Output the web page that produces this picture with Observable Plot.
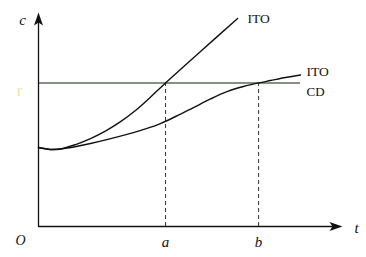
<!DOCTYPE html>
<html>
<head>
<meta charset="utf-8">
<script src="https://cdn.jsdelivr.net/npm/d3@7"></script>
<script src="https://cdn.jsdelivr.net/npm/@observablehq/plot@0.6"></script>
<style>
html,body{margin:0;padding:0;background:#fff;}
</style>
</head>
<body>
<div id="chart"></div>
<script>
// Upper ITO curve (t, c)
const upperT = [0, 0.39, 0.72, 1.22, 1.71, 2.20, 2.70, 3.19, 3.68, 4.18, 5.33, 6.55];
const upperC = [3.69, 3.60, 3.62, 3.83, 4.11, 4.46, 4.90, 5.42, 6.04, 6.71, 8.18, 9.72];
// Lower ITO curve (t, c)
const lowerT = [0, 0.39, 0.72, 1.71, 3.03, 3.52, 4.01, 4.51, 5.10, 5.66, 6.22, 6.74, 7.24, 7.63, 8.13, 8.62];
const lowerC = [3.69, 3.60, 3.62, 3.88, 4.35, 4.56, 4.81, 5.14, 5.56, 5.96, 6.31, 6.54, 6.71, 6.82, 6.96, 7.08];
// CD level r and crossing times a, b
const rLevel = 6.71;
const cdEnd = 8.62;
const crossTimes = [4.18, 7.24];
const crossLabels = ["a", "b"];
const axisMax = 10;
const curveLabels = ["ITO", "ITO"];

const upper = upperT.map((t, i) => ({t, c: upperC[i]}));
const lower = lowerT.map((t, i) => ({t, c: lowerC[i]}));

const dart = {
  draw(ctx, size) {
    ctx.moveTo(0, 0);
    ctx.lineTo(-4.5, 13);
    ctx.lineTo(0, 10);
    ctx.lineTo(4.5, 13);
    ctx.closePath();
  }
};

const serif = "'Liberation Serif', 'DejaVu Serif', serif";

const chart = Plot.plot({
  width: 366,
  height: 257,
  marginLeft: 38,
  marginRight: 24,
  marginTop: 12,
  marginBottom: 31,
  x: {domain: [0, axisMax], axis: null},
  y: {domain: [0, axisMax], axis: null},
  style: {background: "#fff", overflow: "visible"},
  marks: [
    Plot.ruleY([rLevel], {x1: 0, x2: cdEnd, stroke: "#5b6f57", strokeWidth: 1.5}),
    Plot.ruleX(crossTimes, {y1: 0, y2: rLevel, stroke: "#333", strokeWidth: 1, strokeDasharray: "4,3"}),
    Plot.ruleX([0], {y1: 0, y2: axisMax - 0.3, stroke: "#111", strokeWidth: 1.3}),
    Plot.ruleY([0], {x1: 0, x2: axisMax - 0.2, stroke: "#111", strokeWidth: 1.3}),
    Plot.dot([{t: 0, c: axisMax}], {x: "t", y: "c", symbol: dart, r: 5, fill: "#111", stroke: null}),
    Plot.dot([{t: axisMax, c: 0}], {x: "t", y: "c", symbol: dart, r: 5, fill: "#111", stroke: null, rotate: 90}),
    Plot.line(upper, {x: "t", y: "c", curve: "catmull-rom", stroke: "#111", strokeWidth: 1.4}),
    Plot.line(lower, {x: "t", y: "c", curve: "catmull-rom", stroke: "#111", strokeWidth: 1.4}),
    Plot.text([upper[upper.length - 1]], {x: "t", y: "c", text: () => curveLabels[0], textAnchor: "start", dx: 10, dy: 0, fontFamily: serif, fontSize: 13.5, fill: "#111"}),
    Plot.text([lower[lower.length - 1]], {x: "t", y: "c", text: () => curveLabels[1], textAnchor: "start", dx: 6, dy: -3, fontFamily: serif, fontSize: 13.5, fill: "#111"}),
    Plot.text([{t: cdEnd, c: rLevel}], {x: "t", y: "c", text: () => "CD", textAnchor: "start", dx: 6, dy: 9, fontFamily: serif, fontSize: 13, fill: "#111"}),
    Plot.text([{t: 0, c: axisMax}], {x: "t", y: "c", text: () => "c", dx: -16, dy: 8, fontFamily: serif, fontStyle: "italic", fontSize: 15, fill: "#111"}),
    Plot.text([{t: 0, c: rLevel}], {x: "t", y: "c", text: () => "r", dx: -19, dy: 8, fontFamily: serif, fontSize: 17, fill: "#efe6b0"}),
    Plot.text([{t: 0, c: 0}], {x: "t", y: "c", text: () => "O", dx: -18, dy: 14, fontFamily: serif, fontStyle: "italic", fontSize: 14, fill: "#111"}),
    Plot.text(crossTimes, {x: d => d, y: () => 0, text: (d, i) => crossLabels[i], dy: 16, fontFamily: serif, fontStyle: "italic", fontSize: 15, fill: "#111"}),
    Plot.text([{t: axisMax, c: 0}], {x: "t", y: "c", text: () => "t", dx: 14, dy: 2, fontFamily: serif, fontStyle: "italic", fontSize: 15, fill: "#111"})
  ]
});
document.getElementById("chart").appendChild(chart);
</script>
</body>
</html>
